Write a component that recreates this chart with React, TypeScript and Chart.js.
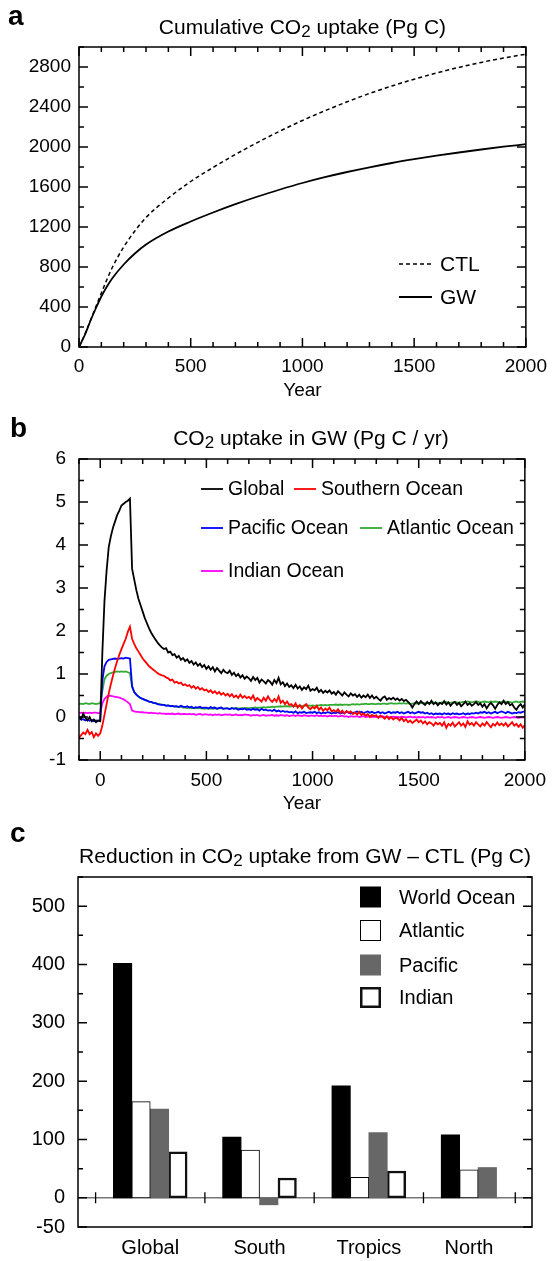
import React, { useEffect, useRef } from 'react';
import { Chart, registerables } from 'chart.js';

Chart.register(...registerables);

const FONT = "'Liberation Sans', Arial, Helvetica, sans-serif";

// ---------- Panel a : cumulative uptake ----------
const cumYears = [0, 25, 50, 75, 100, 125, 150, 200, 250, 300, 400, 500, 600, 700, 800, 900, 1000, 1100, 1200, 1300, 1400, 1500, 1600, 1700, 1800, 1900, 2000];
const cumCTL = [0, 120, 260, 400, 540, 675, 800, 1000, 1160, 1295, 1490, 1655, 1795, 1925, 2047, 2160, 2265, 2362, 2452, 2535, 2610, 2678, 2740, 2796, 2846, 2890, 2928];
const cumGW = [0, 115, 255, 385, 505, 605, 690, 825, 935, 1025, 1155, 1255, 1345, 1428, 1505, 1575, 1640, 1698, 1750, 1797, 1840, 1878, 1913, 1945, 1975, 2003, 2028];
const aXTicks = [0, 500, 1000, 1500, 2000];
const aYTicks = [0, 400, 800, 1200, 1600, 2000, 2400, 2800];
const aTitle: [string, boolean][] = [['Cumulative CO', false], ['2', true], [' uptake (Pg C)', false]];

// ---------- Panel b : annual uptake in GW (every 10 years from -100) ----------
const bYearStart = -100;
const bYearStep = 10;
const uptakeGlobal = [
  0.02, -0.05, 0.08, -0.02, -0.08, 0.0, -0.1, -0.06, -0.12, -0.08,
  -0.1, 1.5, 2.7, 3.4, 3.95, 4.2, 4.4, 4.55, 4.7, 4.8,
  4.92, 4.96, 5.0, 5.03, 5.08, 3.45, 3.2, 2.95, 2.75, 2.6,
  2.45, 2.3, 2.18, 2.06, 1.96, 1.88, 1.8, 1.73, 1.67, 1.62,
  1.58, 1.6, 1.5, 1.52, 1.44, 1.46, 1.38, 1.42, 1.33, 1.37,
  1.3, 1.34, 1.26, 1.3, 1.22, 1.27, 1.19, 1.24, 1.16, 1.21,
  1.12, 1.18, 1.1, 1.16, 1.06, 1.14, 1.08, 1.02, 1.1, 1.04,
  1.02, 1.08, 0.98, 1.03, 0.95, 1.0, 0.92, 0.97, 0.89, 0.94,
  0.9, 0.84, 0.93, 0.86, 0.91, 0.8, 0.87, 0.83, 0.78, 0.86,
  0.82, 0.75, 0.86, 0.79, 0.91, 0.76, 0.81, 0.72, 0.78, 0.7,
  0.74, 0.67, 0.75, 0.66, 0.71, 0.63, 0.69, 0.65, 0.73, 0.61,
  0.65, 0.62, 0.68, 0.58, 0.63, 0.56, 0.61, 0.57, 0.62, 0.54,
  0.58, 0.52, 0.6, 0.55, 0.5, 0.57, 0.52, 0.48, 0.55, 0.5,
  0.53, 0.47, 0.52, 0.45, 0.5, 0.46, 0.52, 0.44, 0.5, 0.43,
  0.47, 0.42, 0.38, 0.45, 0.48, 0.4, 0.44, 0.41, 0.45, 0.4,
  0.43, 0.38, 0.42, 0.37, 0.4, 0.35, 0.3, 0.22, 0.3, 0.36,
  0.3, 0.37, 0.32, 0.28, 0.35, 0.3, 0.38, 0.3, 0.34, 0.27,
  0.33, 0.3, 0.37, 0.29, 0.34, 0.26, 0.32, 0.35, 0.28, 0.33,
  0.25, 0.3, 0.36, 0.28, 0.32, 0.26, 0.3, 0.35, 0.28, 0.32,
  0.24, 0.3, 0.2, 0.28, 0.33, 0.27, 0.19, 0.28, 0.34, 0.3,
  0.38, 0.3, 0.35, 0.27, 0.3, 0.22, 0.17, 0.25, 0.3, 0.22,
  0.3,
];
const uptakeSouthern = [
  -0.48, -0.42, -0.36, -0.4, -0.3, -0.4, -0.35, -0.47, -0.38, -0.44,
  -0.38, -0.2, 0.05, 0.3, 0.55, 0.76, 0.96, 1.14, 1.3, 1.45,
  1.58, 1.7, 1.82, 1.98, 2.1, 1.82, 1.7, 1.6, 1.52, 1.44,
  1.36, 1.3, 1.24, 1.18, 1.14, 1.1, 1.06, 1.02, 0.99, 0.97,
  0.96, 0.92, 0.9, 0.85, 0.87, 0.8, 0.82, 0.78, 0.8, 0.74,
  0.76, 0.72, 0.74, 0.68, 0.72, 0.66, 0.7, 0.64, 0.67, 0.62,
  0.64, 0.58, 0.62, 0.56, 0.6, 0.54, 0.58, 0.52, 0.56, 0.5,
  0.54, 0.48, 0.53, 0.46, 0.5, 0.44, 0.52, 0.45, 0.49, 0.44,
  0.47, 0.42, 0.5, 0.38, 0.44, 0.4, 0.36, 0.45, 0.38, 0.48,
  0.4, 0.35, 0.42, 0.36, 0.48, 0.33, 0.38, 0.3, 0.36, 0.28,
  0.3, 0.24, 0.32, 0.22, 0.28, 0.2, 0.26, 0.3, 0.22, 0.18,
  0.24, 0.2, 0.26, 0.17, 0.22, 0.14, 0.2, 0.16, 0.22, 0.13,
  0.16, 0.12, 0.18, 0.1, 0.15, 0.08, 0.14, 0.1, 0.13, 0.07,
  0.1, 0.06, 0.12, 0.04, 0.08, 0.03, 0.07, 0.0, 0.05, 0.02,
  0.04, -0.02, 0.03, 0.0, -0.04, 0.02, -0.05, 0.0, -0.06, -0.02,
  -0.03, -0.08, -0.02, -0.1, -0.05, -0.12, -0.08, -0.14, -0.1, -0.06,
  -0.12, -0.08, -0.15, -0.1, -0.17, -0.12, -0.15, -0.2, -0.13, -0.17,
  -0.14, -0.2, -0.12, -0.25, -0.16, -0.2, -0.13, -0.22, -0.17, -0.12,
  -0.2, -0.15, -0.23, -0.1, -0.18, -0.14, -0.2, -0.12, -0.17, -0.22,
  -0.15, -0.2, -0.12, -0.18, -0.24, -0.16, -0.2, -0.13, -0.19, -0.15,
  -0.2, -0.14, -0.22, -0.17, -0.12, -0.2, -0.16, -0.23, -0.17, -0.25,
  -0.19,
];
const uptakePacific = [
  -0.02, -0.06, -0.05, -0.08, -0.06, -0.09, -0.07, -0.1, -0.08, -0.09,
  -0.08, 0.86, 1.18, 1.28, 1.33, 1.34, 1.35, 1.36, 1.35, 1.36,
  1.37, 1.36, 1.38, 1.37, 1.36, 0.72, 0.58, 0.52, 0.48, 0.44,
  0.42, 0.4, 0.38, 0.36, 0.35, 0.33, 0.32, 0.3, 0.29, 0.28,
  0.28, 0.26, 0.27, 0.25, 0.26, 0.24, 0.25, 0.23, 0.26, 0.24,
  0.23, 0.25, 0.22, 0.24, 0.21, 0.23, 0.22, 0.24, 0.21, 0.22,
  0.22, 0.2, 0.23, 0.21, 0.22, 0.19, 0.21, 0.22, 0.19, 0.2,
  0.2, 0.18, 0.21, 0.19, 0.2, 0.17, 0.19, 0.18, 0.2, 0.17,
  0.18, 0.16, 0.19, 0.17, 0.18, 0.15, 0.19, 0.16, 0.17, 0.15,
  0.16, 0.14, 0.17, 0.13, 0.15, 0.12, 0.14, 0.12, 0.13, 0.11,
  0.12, 0.1, 0.13, 0.09, 0.11, 0.1, 0.12, 0.09, 0.1, 0.11,
  0.1, 0.12, 0.09, 0.11, 0.08, 0.1, 0.09, 0.11, 0.1, 0.08,
  0.1, 0.09, 0.11, 0.08, 0.1, 0.09, 0.12, 0.1, 0.08, 0.1,
  0.11, 0.13, 0.1, 0.12, 0.09, 0.11, 0.13, 0.1, 0.12, 0.09,
  0.1, 0.12, 0.09, 0.11, 0.08, 0.1, 0.12, 0.09, 0.11, 0.1,
  0.12, 0.09, 0.11, 0.08, 0.1, 0.12, 0.09, 0.11, 0.08, 0.1,
  0.12, 0.1, 0.11, 0.08, 0.1, 0.07, 0.09, 0.06, 0.08, 0.07,
  0.08, 0.06, 0.09, 0.07, 0.08, 0.06, 0.09, 0.07, 0.08, 0.06,
  0.07, 0.09, 0.06, 0.08, 0.07, 0.09, 0.08, 0.1, 0.08, 0.11,
  0.1, 0.12, 0.09, 0.11, 0.08, 0.1, 0.12, 0.09, 0.11, 0.13,
  0.11, 0.09, 0.12, 0.1, 0.08, 0.1, 0.09, 0.11, 0.1, 0.12,
  0.13,
];
const uptakeAtlantic = [
  0.3, 0.31, 0.3, 0.32, 0.31, 0.3, 0.32, 0.31, 0.3, 0.31,
  0.32, 0.6, 0.88, 0.96, 1.0, 1.02, 1.04, 1.05, 1.06, 1.05,
  1.06, 1.05, 1.06, 1.04, 1.02, 0.7, 0.58, 0.52, 0.47, 0.44,
  0.42, 0.4, 0.38, 0.36, 0.35, 0.33, 0.32, 0.31, 0.3, 0.29,
  0.28, 0.27, 0.27, 0.26, 0.25, 0.25, 0.24, 0.23, 0.24, 0.22,
  0.22, 0.21, 0.22, 0.2, 0.21, 0.2, 0.21, 0.2, 0.2, 0.19,
  0.2, 0.19, 0.2, 0.19, 0.2, 0.19, 0.2, 0.2, 0.19, 0.2,
  0.2, 0.19, 0.2, 0.2, 0.21, 0.2, 0.2, 0.21, 0.2, 0.21,
  0.2, 0.21, 0.21, 0.22, 0.21, 0.22, 0.22, 0.23, 0.22, 0.23,
  0.23, 0.24, 0.23, 0.24, 0.24, 0.25, 0.24, 0.25, 0.25, 0.24,
  0.25, 0.26, 0.25, 0.26, 0.26, 0.25, 0.27, 0.26, 0.27, 0.26,
  0.27, 0.26, 0.27, 0.27, 0.28, 0.27, 0.28, 0.27, 0.28, 0.28,
  0.28, 0.29, 0.28, 0.29, 0.28, 0.29, 0.29, 0.28, 0.29, 0.3,
  0.29, 0.3, 0.29, 0.3, 0.3, 0.31, 0.3, 0.3, 0.31, 0.3,
  0.3, 0.31, 0.3, 0.31, 0.31, 0.3, 0.31, 0.32, 0.31, 0.31,
  0.31, 0.32, 0.31, 0.32, 0.31, 0.32, 0.3, 0.31, 0.32, 0.31,
  0.31, 0.32, 0.33, 0.32, 0.33, 0.32, 0.33, 0.34, 0.33, 0.32,
  0.33, 0.34, 0.33, 0.35, 0.34, 0.33, 0.34, 0.35, 0.34, 0.33,
  0.34, 0.35, 0.34, 0.36, 0.35, 0.34, 0.35, 0.36, 0.35, 0.34,
  0.35, 0.36, 0.35, 0.34, 0.36, 0.35, 0.36, 0.35, 0.34, 0.35,
  0.36, 0.35, 0.34, 0.35, 0.33, 0.35, 0.36, 0.34, 0.35, 0.36,
  0.35,
];
const uptakeIndian = [
  0.09, 0.1, 0.09, 0.1, 0.09, 0.1, 0.09, 0.1, 0.1, 0.09,
  0.09, 0.32, 0.42, 0.47, 0.5, 0.49, 0.48, 0.47, 0.46, 0.45,
  0.43, 0.41, 0.38, 0.34, 0.3, 0.15, 0.13, 0.12, 0.12, 0.11,
  0.11, 0.1, 0.1, 0.09, 0.1, 0.09, 0.09, 0.08, 0.09, 0.08,
  0.08, 0.07, 0.08, 0.07, 0.08, 0.06, 0.07, 0.08, 0.06, 0.07,
  0.07, 0.06, 0.07, 0.06, 0.07, 0.05, 0.06, 0.07, 0.05, 0.06,
  0.06, 0.05, 0.06, 0.04, 0.06, 0.05, 0.06, 0.04, 0.05, 0.06,
  0.05, 0.06, 0.04, 0.05, 0.06, 0.04, 0.05, 0.04, 0.06, 0.05,
  0.05, 0.03, 0.05, 0.04, 0.05, 0.03, 0.04, 0.05, 0.03, 0.04,
  0.04, 0.05, 0.03, 0.04, 0.03, 0.05, 0.04, 0.03, 0.04, 0.02,
  0.03, 0.04, 0.02, 0.04, 0.03, 0.02, 0.04, 0.03, 0.02, 0.03,
  0.03, 0.02, 0.04, 0.02, 0.03, 0.02, 0.03, 0.01, 0.03, 0.02,
  0.02, 0.03, 0.01, 0.02, 0.03, 0.01, 0.02, 0.0, 0.02, 0.01,
  0.01, 0.02, 0.0, 0.01, 0.02, 0.0, 0.01, 0.02, 0.0, 0.01,
  0.0, 0.01, 0.0, 0.02, 0.0, 0.01, -0.01, 0.0, 0.01, 0.0,
  0.0, -0.01, 0.01, 0.0, -0.01, 0.0, 0.01, -0.01, 0.0, -0.01,
  0.0, -0.01, 0.0, -0.02, 0.0, -0.01, 0.0, -0.01, -0.02, 0.0,
  -0.01, 0.0, -0.02, -0.01, 0.0, -0.02, -0.01, 0.0, -0.01, -0.02,
  -0.01, 0.0, -0.01, -0.02, -0.01, 0.0, -0.01, -0.02, -0.01, 0.0,
  -0.01, -0.02, -0.01, 0.0, -0.01, -0.02, -0.01, 0.0, -0.01, -0.02,
  -0.01, 0.0, -0.01, -0.02, -0.01, 0.0, -0.01, -0.02, -0.01, 0.0,
  -0.01,
];
const bXTicks = [0, 500, 1000, 1500, 2000];
const bYTicks = [-1, 0, 1, 2, 3, 4, 5, 6];
const bTitle: [string, boolean][] = [['CO', false], ['2', true], [' uptake in GW (Pg C / yr)', false]];

// ---------- Panel c : reduction in uptake ----------
const regions = ['Global', 'South', 'Tropics', 'North'];
const worldOcean = [402, 104, 192, 108];
const atlantic = [165, 82, 35, 48];
const pacific = [152, -12, 112, 52];
const indian: (number | null)[] = [79, 34, 46, null];
const cYTicks = [-50, 0, 100, 200, 300, 400, 500];
const cSeparators = [0.5, 1.5, 2.5, 3.5, 4.34];
const cTitle: [string, boolean][] = [['Reduction in CO', false], ['2', true], [' uptake from GW \u2013 CTL (Pg C)', false]];

// ---------- plugins ----------
const framePlugin = {
  id: 'frameTicks',
  afterDatasetsDraw(chart: any, _a: any, o: any) {
    if (!o || !o.enabled) return;
    const ctx = chart.ctx;
    const { left, right, top, bottom } = chart.chartArea;
    ctx.save();
    ctx.strokeStyle = '#000';
    ctx.lineWidth = o.lineWidth;
    ctx.strokeRect(left, top, right - left, bottom - top);
    const drawAxis = (scale: any, minorStep: number, horizontal: boolean) => {
      const majors = scale.ticks.map((t: any) => t.value);
      const list: [number, number][] = majors.map((v: number) => [v, o.majorLen]);
      const start = Math.ceil(scale.min / minorStep - 1e-9) * minorStep;
      for (let v = start; v <= scale.max + 1e-9; v += minorStep) {
        if (!majors.some((m: number) => Math.abs(m - v) < 1e-6)) list.push([v, o.minorLen]);
      }
      ctx.beginPath();
      for (const [v, len] of list) {
        const p = scale.getPixelForValue(v);
        if (horizontal) {
          ctx.moveTo(p, bottom); ctx.lineTo(p, bottom - len);
          ctx.moveTo(p, top); ctx.lineTo(p, top + len);
        } else {
          ctx.moveTo(left, p); ctx.lineTo(left + len, p);
          ctx.moveTo(right, p); ctx.lineTo(right - len, p);
        }
      }
      ctx.stroke();
    };
    if (o.xMinor) drawAxis(chart.scales.x, o.xMinor, true);
    if (o.yMinor) drawAxis(chart.scales.y, o.yMinor, false);
    ctx.restore();
  },
};

const zeroLinePlugin = {
  id: 'zeroLine',
  beforeDatasetsDraw(chart: any, _a: any, o: any) {
    if (!o || !o.enabled) return;
    const ctx = chart.ctx;
    const { left, right } = chart.chartArea;
    const y = chart.scales.y.getPixelForValue(0);
    ctx.save();
    ctx.strokeStyle = o.color;
    ctx.lineWidth = o.lineWidth;
    ctx.beginPath(); ctx.moveTo(left, y); ctx.lineTo(right, y); ctx.stroke();
    ctx.restore();
  },
  afterDatasetsDraw(chart: any, _a: any, o: any) {
    if (!o || !o.enabled) return;
    const ctx = chart.ctx;
    const y = chart.scales.y.getPixelForValue(0);
    ctx.save();
    ctx.strokeStyle = '#000';
    ctx.lineWidth = 1.3;
    ctx.beginPath();
    for (const v of o.separators) {
      const x = chart.scales.x.getPixelForValue(v);
      ctx.moveTo(x, y - o.half); ctx.lineTo(x, y + o.half);
    }
    ctx.stroke();
    ctx.restore();
  },
};

const titlePlugin = {
  id: 'panelTitle',
  afterDraw(chart: any, _a: any, o: any) {
    if (!o || !o.parts) return;
    const ctx = chart.ctx;
    ctx.save();
    ctx.fillStyle = '#000';
    ctx.textBaseline = 'alphabetic';
    ctx.textAlign = 'left';
    ctx.font = `bold ${o.letterSize}px ${FONT}`;
    ctx.fillText(o.letter, o.letterX, o.letterBaseline);
    const subSize = Math.round(o.size * 0.8);
    const widths = o.parts.map(([t, sub]: [string, boolean]) => {
      ctx.font = `${sub ? subSize : o.size}px ${FONT}`;
      return ctx.measureText(t).width;
    });
    const total = widths.reduce((s: number, w: number) => s + w, 0);
    const { left, right } = chart.chartArea;
    let x = (left + right) / 2 + (o.dx || 0) - total / 2;
    o.parts.forEach(([t, sub]: [string, boolean], i: number) => {
      ctx.font = `${sub ? subSize : o.size}px ${FONT}`;
      ctx.fillText(t, x, o.baseline + (sub ? o.subDrop : 0));
      x += widths[i];
    });
    ctx.restore();
  },
};

const legendPlugin = {
  id: 'boxLegend',
  afterDraw(chart: any, _a: any, o: any) {
    if (!o || !o.items) return;
    const ctx = chart.ctx;
    ctx.save();
    ctx.textBaseline = 'middle';
    ctx.textAlign = 'left';
    for (const it of o.items) {
      const ds = chart.data.datasets[it.ds];
      if (o.kind === 'line') {
        ctx.strokeStyle = ds.borderColor;
        ctx.lineWidth = ds.borderWidth;
        ctx.setLineDash(ds.borderDash || []);
        ctx.beginPath(); ctx.moveTo(it.x, it.y); ctx.lineTo(it.x + o.sampleW, it.y); ctx.stroke();
        ctx.setLineDash([]);
      } else {
        const s = o.sampleW;
        ctx.fillStyle = ds.backgroundColor;
        ctx.fillRect(it.x, it.y - s / 2, s, s);
        const bw = ds.borderWidth || 0;
        if (bw > 0) {
          ctx.strokeStyle = ds.borderColor;
          ctx.lineWidth = bw;
          ctx.strokeRect(it.x + bw / 2, it.y - s / 2 + bw / 2, s - bw, s - bw);
        }
      }
      ctx.fillStyle = '#000';
      ctx.font = `${o.size}px ${FONT}`;
      ctx.fillText(ds.label, it.x + o.textGap, it.y + 1);
    }
    ctx.restore();
  },
};

Chart.register(framePlugin, zeroLinePlugin, titlePlugin, legendPlugin);

const tickFont = (size: number) => ({ family: FONT, size });
const plainNumber = (v: any) => String(v);

function setTicks(list: number[]) {
  return (scale: any) => {
    scale.ticks = list.map((v) => ({ value: v }));
  };
}

function configA(): any {
  return {
    type: 'line',
    data: {
      datasets: [
        { label: 'CTL', data: cumYears.map((x, i) => ({ x, y: cumCTL[i] })), borderColor: '#000', borderWidth: 1.5, borderDash: [4, 3], pointRadius: 0, cubicInterpolationMode: 'monotone' },
        { label: 'GW', data: cumYears.map((x, i) => ({ x, y: cumGW[i] })), borderColor: '#000', borderWidth: 1.8, pointRadius: 0, cubicInterpolationMode: 'monotone' },
      ],
    },
    options: {
      responsive: false, animation: false, devicePixelRatio: 1,
      layout: { padding: { top: 47, right: 23, left: 0, bottom: 0 } },
      scales: {
        x: {
          type: 'linear', min: 0, max: 2000,
          afterBuildTicks: setTicks(aXTicks), afterFit: (s: any) => { s.height = 63; },
          grid: { display: false, drawTicks: false }, border: { display: false },
          ticks: { font: tickFont(19), color: '#000', padding: 8, maxRotation: 0, autoSkip: false, callback: plainNumber },
          title: { display: true, text: 'Year', font: tickFont(19), color: '#000', padding: { top: 0, bottom: 8 } },
        },
        y: {
          type: 'linear', min: 0, max: 3000,
          afterBuildTicks: setTicks(aYTicks), afterFit: (s: any) => { s.width = 79; },
          grid: { display: false, drawTicks: false }, border: { display: false },
          ticks: { font: tickFont(19), color: '#000', padding: 8, autoSkip: false, callback: plainNumber },
        },
      },
      plugins: {
        legend: { display: false }, tooltip: { enabled: false },
        frameTicks: { enabled: true, lineWidth: 1.5, majorLen: 9, minorLen: 5, xMinor: 100, yMinor: 200 },
        panelTitle: { letter: 'a', letterSize: 28, letterX: 8, letterBaseline: 25, parts: aTitle, size: 21, baseline: 33.5, subDrop: 3 },
        boxLegend: { kind: 'line', sampleW: 33, textGap: 41, size: 21, items: [{ ds: 0, x: 399, y: 264 }, { ds: 1, x: 399, y: 297 }] },
      },
    },
  };
}

function configB(): any {
  const mk = (label: string, vals: number[], color: string) => ({
    label, borderColor: color, borderWidth: 1.8, pointRadius: 0,
    data: vals.map((y, i) => ({ x: bYearStart + i * bYearStep, y })),
  });
  return {
    type: 'line',
    data: {
      datasets: [
        mk('Global', uptakeGlobal, '#000000'),
        mk('Southern Ocean', uptakeSouthern, '#ff0000'),
        mk('Pacific Ocean', uptakePacific, '#0000ff'),
        mk('Atlantic Ocean', uptakeAtlantic, '#33aa33'),
        mk('Indian Ocean', uptakeIndian, '#ff00ff'),
      ],
    },
    options: {
      responsive: false, animation: false, devicePixelRatio: 1,
      layout: { padding: { top: 49, right: 24, left: 0, bottom: 0 } },
      scales: {
        x: {
          type: 'linear', min: -100, max: 2000,
          afterBuildTicks: setTicks(bXTicks), afterFit: (s: any) => { s.height = 60; },
          grid: { display: false, drawTicks: false }, border: { display: false },
          ticks: { font: tickFont(19), color: '#000', padding: 9, maxRotation: 0, autoSkip: false, callback: plainNumber },
          title: { display: true, text: 'Year', font: tickFont(19), color: '#000', padding: { top: 0, bottom: 5 } },
        },
        y: {
          type: 'linear', min: -1, max: 6,
          afterBuildTicks: setTicks(bYTicks), afterFit: (s: any) => { s.width = 79; },
          grid: { display: false, drawTicks: false }, border: { display: false },
          ticks: { font: tickFont(19), color: '#000', padding: 13, autoSkip: false, callback: plainNumber },
        },
      },
      plugins: {
        legend: { display: false }, tooltip: { enabled: false },
        frameTicks: { enabled: true, lineWidth: 1.5, majorLen: 9, minorLen: 5, xMinor: 100, yMinor: 0.5 },
        panelTitle: { letter: 'b', letterSize: 28, letterX: 10, letterBaseline: 26.5, parts: bTitle, size: 21, baseline: 35, subDrop: 3, dx: 9 },
        boxLegend: {
          kind: 'line', sampleW: 22, textGap: 27, size: 19.5,
          items: [
            { ds: 0, x: 201, y: 79 }, { ds: 1, x: 294, y: 79 },
            { ds: 2, x: 201, y: 118 }, { ds: 3, x: 360, y: 118 },
            { ds: 4, x: 201, y: 161 },
          ],
        },
      },
    },
  };
}

function configC(): any {
  const series = [worldOcean, atlantic, pacific, indian];
  const groupPct = 0.675;
  const pts = (vals: (number | null)[]) => vals.map((y, i) => ({ x: i + 1, y }));
  return {
    type: 'bar',
    data: {
      datasets: [
        { label: 'World Ocean', data: pts(worldOcean), backgroundColor: '#000000', borderWidth: 0 },
        { label: 'Atlantic', data: pts(atlantic), backgroundColor: '#ffffff', borderColor: '#000000', borderWidth: 1, borderSkipped: false },
        { label: 'Pacific', data: pts(pacific), backgroundColor: '#676767', borderWidth: 0 },
        { label: 'Indian', data: pts(indian), backgroundColor: '#ffffff', borderColor: '#111111', borderWidth: 2.5, borderSkipped: false },
      ],
    },
    options: {
      responsive: false, animation: false, devicePixelRatio: 1,
      barThickness: 18.45,
      layout: { padding: { top: 57, right: 23, left: 0, bottom: 0 } },
      scales: {
        x: {
          type: 'linear', min: 0.339, max: 4.493, offset: false,
          afterBuildTicks: (scale: any) => {
            scale.ticks = regions.map((_, i) => {
              const present = series.filter((s) => s[i] !== null).length;
              const slot = groupPct / series.length;
              const leftEdge = i + 1 - groupPct / 2;
              return { value: leftEdge + (slot * present) / 2 };
            });
          },
          afterFit: (s: any) => { s.height = 34; },
          grid: { display: false, drawTicks: false }, border: { display: false },
          ticks: { font: tickFont(20), color: '#000', padding: 9, maxRotation: 0, autoSkip: false, callback: (_v: any, i: number) => regions[i] },
        },
        y: {
          type: 'linear', min: -50, max: 550,
          afterBuildTicks: setTicks(cYTicks), afterFit: (s: any) => { s.width = 78; },
          grid: { display: false, drawTicks: false }, border: { display: false },
          ticks: { font: tickFont(20), color: '#000', padding: 13, autoSkip: false, callback: plainNumber },
        },
      },
      plugins: {
        legend: { display: false }, tooltip: { enabled: false },
        frameTicks: { enabled: true, lineWidth: 1.5, majorLen: 9, minorLen: 5, xMinor: 0, yMinor: 50 },
        zeroLine: { enabled: true, color: '#777777', lineWidth: 1.5, separators: cSeparators, half: 5.5 },
        panelTitle: { letter: 'c', letterSize: 28, letterX: 10, letterBaseline: 22, parts: cTitle, size: 21, baseline: 42.5, subDrop: 3 },
        boxLegend: {
          kind: 'box', sampleW: 21, textGap: 39, size: 20,
          items: [
            { ds: 0, x: 360, y: 77 }, { ds: 1, x: 360, y: 110.5 },
            { ds: 2, x: 360, y: 145 }, { ds: 3, x: 360, y: 177.5 },
          ],
        },
      },
    },
  };
}

export default function App() {
  const refA = useRef<HTMLCanvasElement>(null);
  const refB = useRef<HTMLCanvasElement>(null);
  const refC = useRef<HTMLCanvasElement>(null);

  useEffect(() => {
    const charts = [
      new Chart(refA.current as HTMLCanvasElement, configA()),
      new Chart(refB.current as HTMLCanvasElement, configB()),
      new Chart(refC.current as HTMLCanvasElement, configC()),
    ];
    return () => charts.forEach((c) => c.destroy());
  }, []);

  const canvasStyle = (top: number, h: number): React.CSSProperties => ({ position: 'absolute', left: 0, top, width: 555, height: h });

  return (
    <div style={{ position: 'absolute', left: 0, top: 0, width: 555, height: 1261, background: '#ffffff', overflow: 'hidden' }}>
      <canvas ref={refA} width={555} height={410} style={canvasStyle(0, 410)} />
      <canvas ref={refB} width={555} height={410} style={canvasStyle(410, 410)} />
      <canvas ref={refC} width={555} height={441} style={canvasStyle(820, 441)} />
    </div>
  );
}
